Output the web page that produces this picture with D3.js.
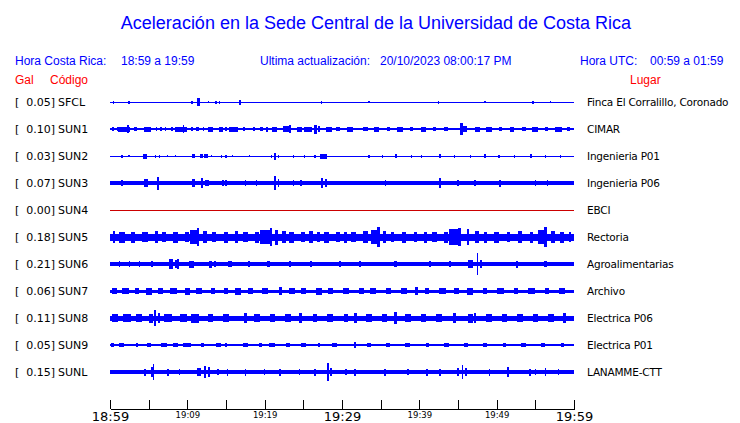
<!DOCTYPE html>
<html><head><meta charset="utf-8">
<script src="https://cdn.jsdelivr.net/npm/d3@7"></script>
<style>
html,body{margin:0;padding:0;background:#fff;}
svg{display:block;}
</style></head>
<body>
<script>
// ---- data ----
const codes = ["SFCL","SUN1","SUN2","SUN3","SUN4","SUN5","SUN6","SUN7","SUN8","SUN9","SUNL"];
const peaks = [0.05,0.10,0.03,0.07,0.00,0.18,0.21,0.06,0.11,0.05,0.15];
const places = ["Finca El Corralillo, Coronado","CIMAR","Ingenieria P01","Ingenieria P06","EBCI","Rectoria","Agroalimentarias","Archivo","Electrica P06","Electrica P01","LANAMME-CTT"];
// baseline half-amplitude (relative units) per station
const baseAmp = [0.5,1,0.5,2,0.5,3.5,2,1.5,2.5,1,2];
// events: [minute from 18:59, duration in minutes, half-amplitude]
const evSFCL = [[0.5,0.15,1.5],[2.45,0.15,1.5],[10.6,0.15,1.5],[11.4,0.4,4],[12.7,0.15,1],[13.7,0.15,1.5],[14.2,0.15,1.5],[16.8,0.3,2.5],[27.4,0.15,1.5],[33.5,0.15,1],[42.5,0.15,1.5],[48.5,0.15,1],[54.7,0.15,1.5],[57,0.15,1]];
const evSUN1 = [[0.4,0.3,2],[1.0,0.3,2],[1.8,1.6,2.5],[2.3,0.2,4],[3.3,0.4,2],[4.8,0.9,2.5],[6.0,0.2,2],[6.6,0.2,2],[7.2,0.2,2],[8.0,0.3,2],[9.2,1.6,2.5],[9.5,0.2,4],[10.6,0.3,2],[11.3,0.3,2],[12.1,0.2,2],[13.0,0.6,2.5],[14.3,0.5,2.5],[15.0,0.2,2],[15.8,0.8,2.5],[16.2,0.8,2.5],[17.3,0.3,2],[18.6,0.2,2],[19.6,0.3,2],[20.3,0.3,2.5],[21.3,0.6,2.5],[22.8,0.8,3],[23.3,0.2,4],[24.5,0.6,2.5],[25.6,1.0,2.5],[26.6,0.4,4.5],[27.0,0.2,3],[28.3,0.8,2.5],[29.5,0.6,2],[31.0,0.8,2.5],[33.0,0.6,2],[34.5,0.6,2.5],[36.0,0.4,2],[37.5,0.8,2.5],[39.0,0.4,2],[40.5,0.6,2.5],[42.0,0.4,2],[43.5,0.5,2],[45.4,0.4,6],[45.8,0.6,3],[47.5,0.6,2.5],[49.0,0.8,2.5],[50.5,0.4,2],[52.0,0.6,2.5],[53.5,0.5,2],[55.0,0.8,2.5],[56.5,0.4,2],[58.0,0.8,2.5],[59.3,0.3,2]];
const evSUN2 = [[1.55,0.15,1.5],[2.45,0.15,1],[4.5,0.5,2.5],[5.9,0.15,1.5],[6.4,0.15,1.5],[7.4,0.15,1],[8.5,0.15,1],[10.8,0.5,2],[11.8,0.4,2],[12.4,0.5,2],[13.1,0.15,1],[14.4,0.15,1.5],[15.0,0.15,1.5],[15.8,0.15,1],[18.0,0.15,1],[20.9,0.15,1.5],[21.3,0.3,3.5],[21.8,0.15,1.5],[23.7,0.15,1.5],[25.2,0.15,1.5],[26.5,0.15,1.5],[27.6,0.8,2.5],[33.5,0.15,1.5],[35.2,0.15,1.5],[37.0,0.3,2],[39.0,0.15,1.5],[40.3,0.15,1.5],[42.7,0.3,2],[44.5,0.15,1.5],[46.6,0.15,1.5],[48.5,0.3,2],[50.3,0.15,1.5],[52.3,0.15,1.5],[54.4,0.3,2],[56.3,0.15,1.5],[58.2,0.15,1.5]];
const evSUN3 = [[1.55,0.15,3],[4.7,0.5,4],[6.2,0.15,6.5],[10.8,0.5,4],[11.9,0.2,5],[12.4,0.2,3],[12.7,0.2,3],[14.6,0.2,3],[15.0,0.2,3],[17.5,0.2,3],[18.9,0.15,3],[21.3,0.3,7],[21.8,0.2,4],[23.7,0.2,3],[24.7,0.2,3],[27.4,0.3,5],[27.9,0.2,4],[35.6,0.2,3],[42.7,0.3,5],[45.0,0.2,3],[47.2,0.2,3],[50.4,0.2,3.5],[55.0,0.2,3],[56.6,0.2,3]];
const evSUN4 = [];
const evSUN5 = [[0.5,0.3,6],[1.5,0.8,5.5],[3.0,0.5,5.5],[4.5,0.8,5],[6.0,0.4,6],[7.0,0.6,5],[8.5,0.6,5.5],[10.0,0.5,5],[10.9,1.0,7],[11.4,0.2,9],[12.3,0.5,6],[13.5,0.5,5],[15.0,0.6,5.5],[16.3,0.4,6],[17.5,0.6,5],[19.0,0.5,5.5],[20.2,1.5,7],[20.8,0.3,9],[21.5,0.4,7.5],[22.5,0.5,6],[23.5,0.6,5.5],[25.0,0.5,5],[26.0,0.6,6],[27.0,0.4,5],[28.0,0.6,5.5],[29.5,0.5,5],[30.5,0.4,5.5],[31.5,0.6,5],[33.0,0.6,6],[34.3,1.2,7],[34.7,0.3,10],[35.5,0.5,6],[36.5,0.4,5],[38.0,0.6,5.5],[39.5,0.5,5],[40.8,0.4,5.5],[42.0,0.6,5],[43.5,0.5,5.5],[44.6,1.4,8],[45.2,0.3,9],[46.3,0.3,8],[47.5,0.5,6],[48.5,0.4,5.5],[50.0,0.6,5.5],[51.5,0.4,5],[53.0,0.6,6],[54.5,0.5,5.5],[55.7,0.8,7],[56.3,0.3,10],[57.3,0.5,6],[58.5,0.5,5.5],[59.5,0.3,5]];
const evSUN6 = [[1.2,0.2,3],[2.5,0.2,3],[3.8,0.2,3],[5.4,0.2,3],[7.9,0.5,5],[8.5,0.2,4],[8.8,0.3,5],[10.5,0.6,3.5],[13.0,0.3,3.5],[13.6,0.3,3],[15.5,0.6,3],[18.0,0.3,3],[20.5,0.5,3],[23.3,0.3,3],[26.0,0.3,3],[29.7,0.3,3],[32.3,0.3,3],[36.9,0.3,3],[41.4,0.3,3],[44.0,0.3,3],[46.6,0.6,4],[47.5,0.2,11],[48.0,0.3,4],[52.6,0.3,3.5],[56.3,0.3,3]];
const evSUN7 = [[0.6,0.6,3],[2.0,0.8,3],[3.5,0.6,3],[5.0,0.8,3.5],[6.5,0.6,3],[8.2,1.0,3],[10.0,0.6,3.5],[11.5,0.8,3],[13.3,0.6,3],[15.0,0.6,3],[16.5,0.8,3.5],[18.2,0.6,3],[20.0,0.8,3],[22.0,0.4,4],[23.5,0.8,3],[25.0,0.6,3],[27.0,0.8,3.5],[28.5,0.6,3],[30.5,0.8,3],[32.5,0.6,3],[34.0,0.8,3],[36.0,0.6,3],[38.0,0.8,3],[39.6,0.4,4],[41.0,0.6,3],[43.0,0.8,3],[44.8,0.6,3],[46.5,0.8,3.5],[48.5,0.6,3],[50.5,0.8,3],[52.5,0.6,3],[54.5,0.8,3],[56.5,0.6,3],[58.5,0.8,3]];
const evSUN8 = [[0.6,0.8,4],[2.2,1.0,4],[3.8,0.8,4],[5.3,0.6,4.5],[5.8,0.2,8],[6.3,0.3,5],[7.5,1.0,4],[9.5,0.8,4],[11.0,1.0,4.5],[13.0,0.6,4],[15.0,0.8,4],[17.5,0.4,5],[19.0,0.8,4],[21.0,0.6,4],[23.0,0.8,4],[24.6,0.4,5],[26.5,0.6,4],[28.5,0.8,4],[30.5,0.6,4],[31.7,0.4,5],[33.5,0.8,4],[35.5,0.6,4],[36.9,0.3,6],[38.5,0.8,4],[40.5,0.6,4],[42.5,0.8,4],[44.6,0.4,5],[46.6,0.6,4.5],[47.2,0.3,5],[49.0,0.8,4],[51.0,0.6,4],[53.0,0.8,4],[55.0,0.6,4],[57.0,0.8,4],[58.8,0.4,5]];
const evSUN9 = [[0.3,0.4,2],[1.5,0.6,2],[3.5,0.3,2],[5.0,0.5,2],[7.0,0.8,2],[8.5,0.6,2],[10.0,1.0,2],[12.0,0.4,2],[14.0,0.6,2],[15.0,0.3,2],[17.5,0.6,2],[19.5,0.4,2],[21.0,0.8,2],[23.0,0.5,2],[25.0,0.6,2],[27.0,0.3,2],[29.0,0.6,2],[31.7,0.3,3],[33.5,0.6,2],[36.0,0.5,2],[38.5,0.6,2],[41.0,0.4,2],[43.5,0.6,2],[46.0,0.5,2],[48.5,0.6,2],[51.0,0.4,2],[53.5,0.6,2],[56.0,0.5,2],[58.5,0.4,2]];
const evSUNL = [[4.5,0.2,3.5],[5.5,0.3,5],[5.6,0.15,8],[7.5,0.2,3.5],[9.0,0.2,3],[11.5,0.5,4],[12.3,0.3,6],[12.8,0.3,5],[14.0,0.2,3],[15.2,0.2,3.5],[17.5,0.2,3.5],[20.0,0.2,3],[22.0,0.2,3.5],[24.5,0.2,3],[26.5,0.3,3.5],[28.2,0.2,9],[28.6,0.3,4],[30.5,0.2,3],[31.7,0.2,3.5],[35.6,0.3,3.5],[38.5,0.2,3],[41.0,0.3,3.5],[42.7,0.3,3.5],[45.0,0.3,4],[45.6,0.2,7],[46.0,0.3,4],[49.1,0.2,3.5],[51.5,0.3,5],[54.3,0.2,3.5],[55.0,0.2,3],[56.3,0.2,4],[58.0,0.2,3]];
const events = [evSFCL,evSUN1,evSUN2,evSUN3,evSUN4,evSUN5,evSUN6,evSUN7,evSUN8,evSUN9,evSUNL];
const tickMinutes = [0,5,10,15,20,25,30,35,40,45,50,55,60];
const tickLabels = ["18:59","","19:09","","19:19","","19:29","","19:39","","19:49","","19:59"];
const majorTicks = ["18:59","19:29","19:59"];

// ---- chart ----
const W = 740, H = 423;
const BLUE = "#0000ff", RED = "#ff0000";
const svg = d3.select("body").append("svg").attr("width", W).attr("height", H);

const x = d3.scaleLinear().domain([0, 60]).range([110, 574]);
const y = d3.scalePoint().domain(codes).range([102, 372]);
const amp = d3.scaleLinear().domain([0, 10]).range([0, 10]);

// title
svg.append("text").attr("x", 376).attr("y", 29).attr("text-anchor", "middle")
  .attr("font-family", "Liberation Sans, Arial, sans-serif").attr("font-size", 18)
  .attr("fill", BLUE).text("Aceleración en la Sede Central de la Universidad de Costa Rica");

const hdr = [
  [15, "Hora Costa Rica:"], [121, "18:59 a 19:59"],
  [260, "Ultima actualización:"], [380, "20/10/2023 08:00:17 PM"],
  [580, "Hora UTC:"], [650, "00:59 a 01:59"]
];
svg.selectAll("text.hdr").data(hdr).join("text").attr("class", "hdr")
  .attr("x", d => d[0]).attr("y", 65)
  .attr("font-family", "Liberation Sans, Arial, sans-serif").attr("font-size", 12)
  .attr("fill", BLUE).text(d => d[1]);

const sub = [[15, "Gal"], [50, "Código"], [630, "Lugar"]];
svg.selectAll("text.sub").data(sub).join("text").attr("class", "sub")
  .attr("x", d => d[0]).attr("y", 84)
  .attr("font-family", "Liberation Sans, Arial, sans-serif").attr("font-size", 12)
  .attr("fill", RED).text(d => d[1]);

// row labels
const rows = svg.selectAll("g.row").data(codes).join("g").attr("class", "row");
const lf = "DejaVu Sans, sans-serif";
rows.append("text").attr("x", 15).attr("y", c => y(c) + 4).attr("font-family", lf).attr("font-size", 11).text("[");
rows.append("text").attr("x", 55).attr("y", c => y(c) + 4).attr("text-anchor", "end").attr("font-family", lf).attr("font-size", 11)
  .text((c, i) => d3.format(".2f")(peaks[i]) + "]");
rows.append("text").attr("x", 58).attr("y", c => y(c) + 4).attr("font-family", lf).attr("font-size", 11).text(c => c);
rows.append("text").attr("x", 587).attr("y", c => y(c) + 4).attr("font-family", lf).attr("font-size", 10.5)
  .attr("letter-spacing", -0.2)
  .text((c, i) => places[i]);

// traces
codes.forEach((c, i) => {
  const col = i === 4 ? "#cc0000" : BLUE;
  const g = svg.append("g").attr("shape-rendering", "crispEdges").attr("fill", col);
  const cy = y(c);
  const b = amp(baseAmp[i]);
  g.append("rect").attr("x", x(0)).attr("width", x(60) - x(0))
    .attr("y", cy - b).attr("height", Math.max(1, 2 * b));
  g.selectAll("rect.ev").data(events[i]).join("rect").attr("class", "ev")
    .attr("x", d => x(d[0] - d[1] / 2))
    .attr("width", d => Math.max(1, x(d[1]) - x(0)))
    .attr("y", d => cy - amp(d[2]))
    .attr("height", d => 2 * amp(d[2]));
});

// axis
const axis = d3.axisBottom(x).tickValues(tickMinutes)
  .tickFormat((d, i) => tickLabels[i]).tickSizeInner(-9).tickSizeOuter(0).tickPadding(3);
const ag = svg.append("g").attr("transform", "translate(0,409)").call(axis);
ag.select(".domain").attr("stroke", "#000").attr("shape-rendering", "crispEdges");
ag.selectAll(".tick line").attr("stroke", "#000").attr("shape-rendering", "crispEdges");
ag.selectAll(".tick text").attr("fill", "#000")
  .attr("font-family", "DejaVu Sans, sans-serif")
  .attr("font-size", (d, i) => majorTicks.includes(tickLabels[i]) ? 13 : 8.5)
  .attr("dy", "0.71em");
</script>
</body></html>
